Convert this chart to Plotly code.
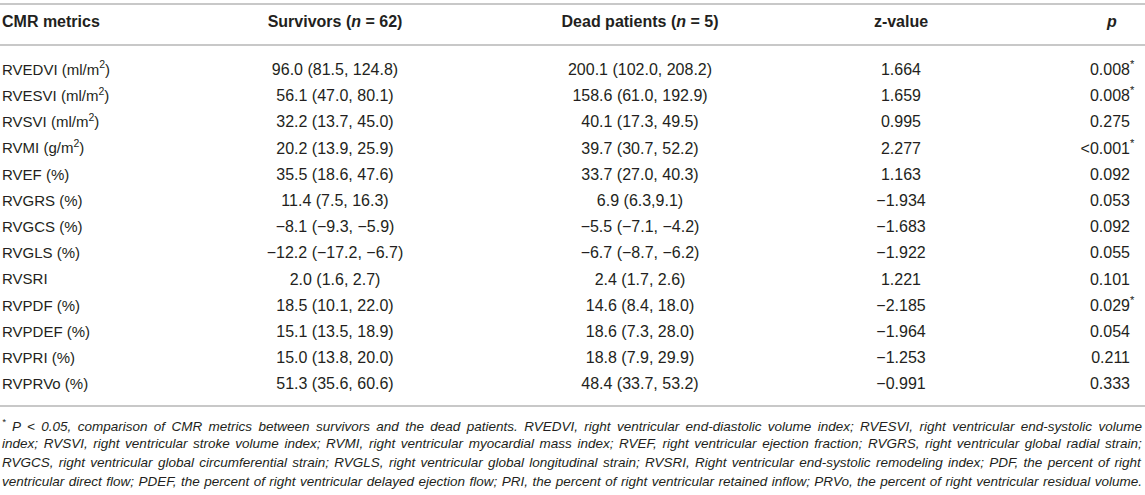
"""CMR metrics of survivors and dead patients, drawn as a table."""

import plotly.graph_objects as go

headers = [
    "<b>CMR metrics</b>",
    "<b>Survivors (<i>n</i> = 62)</b>",
    "<b>Dead patients (<i>n</i> = 5)</b>",
    "<b>z-value</b>",
    "<b><i>p</i></b>",
]
metrics = [
    "RVEDVI (ml/m<sup>2</sup>)",
    "RVESVI (ml/m<sup>2</sup>)",
    "RVSVI (ml/m<sup>2</sup>)",
    "RVMI (g/m<sup>2</sup>)",
    "RVEF (%)",
    "RVGRS (%)",
    "RVGCS (%)",
    "RVGLS (%)",
    "RVSRI",
    "RVPDF (%)",
    "RVPDEF (%)",
    "RVPRI (%)",
    "RVPRVo (%)",
]
survivors = [
    "96.0 (81.5, 124.8)",
    "56.1 (47.0, 80.1)",
    "32.2 (13.7, 45.0)",
    "20.2 (13.9, 25.9)",
    "35.5 (18.6, 47.6)",
    "11.4 (7.5, 16.3)",
    "\u22128.1 (\u22129.3, \u22125.9)",
    "\u221212.2 (\u221217.2, \u22126.7)",
    "2.0 (1.6, 2.7)",
    "18.5 (10.1, 22.0)",
    "15.1 (13.5, 18.9)",
    "15.0 (13.8, 20.0)",
    "51.3 (35.6, 60.6)",
]
dead = [
    "200.1 (102.0, 208.2)",
    "158.6 (61.0, 192.9)",
    "40.1 (17.3, 49.5)",
    "39.7 (30.7, 52.2)",
    "33.7 (27.0, 40.3)",
    "6.9 (6.3,9.1)",
    "\u22125.5 (\u22127.1, \u22124.2)",
    "\u22126.7 (\u22128.7, \u22126.2)",
    "2.4 (1.7, 2.6)",
    "14.6 (8.4, 18.0)",
    "18.6 (7.3, 28.0)",
    "18.8 (7.9, 29.9)",
    "48.4 (33.7, 53.2)",
]
z_values = [1.664, 1.659, 0.995, 2.277, 1.163, -1.934, -1.683, -1.922,
            1.221, -2.185, -1.964, -1.253, -0.991]
p_values = ["0.008", "0.008", "0.275", "<0.001", "0.092", "0.053", "0.092",
            "0.055", "0.101", "0.029", "0.054", "0.211", "0.333"]
significant = [True, True, False, True, False, False, False, False,
               False, True, False, False, False]
footnote = [
    "<sup>*</sup> P < 0.05, comparison of CMR metrics between survivors and the dead patients. "
    "RVEDVI, right ventricular end-diastolic volume index; RVESVI, right ventricular end-systolic volume",
    "index; RVSVI, right ventricular stroke volume index; RVMI, right ventricular myocardial mass index; "
    "RVEF, right ventricular ejection fraction; RVGRS, right ventricular global radial strain;",
    "RVGCS, right ventricular global circumferential strain; RVGLS, right ventricular global longitudinal strain; "
    "RVSRI, Right ventricular end-systolic remodeling index; PDF, the percent of right",
    "ventricular direct flow; PDEF, the percent of right ventricular delayed ejection flow; PRI, the percent "
    "of right ventricular retained inflow; PRVo, the percent of right ventricular residual volume.",
]

# layout (pixels in a 1145x495 page, rows counted from the first data row)
W, H = 1145, 495
ROW0, ROW_H = 71, 26.2
COL_X = {"metric": 2, "surv": 335, "dead": 640, "z": 901, "p": 1130}
P_HEADER_X = 1112
TEXT = "#231f20"
RULE = "#c8c8c8"
FONT = "Liberation Sans, Arial, sans-serif"
NOTE_RIGHT = 1142  # footnote is justified to this page x


def _row(px: float) -> float:
    return (px - ROW0) / ROW_H


def _fmt(v: float) -> str:
    return f"{v:.3f}".replace("-", "\u2212")


rows = list(range(len(metrics)))
header_y = _row(23)

fig = go.Figure()


def _column(x, labels, ys, position, size=16):
    fig.add_trace(go.Scatter(
        x=[x] * len(labels), y=ys, text=labels, mode="text",
        textposition=position,
        textfont={"family": FONT, "size": size, "color": TEXT},
        hoverinfo="skip", showlegend=False,
    ))


header_x = [COL_X["metric"], COL_X["surv"], COL_X["dead"], COL_X["z"], P_HEADER_X]
header_pos = ["middle right"] + ["middle center"] * 4
for x, label, pos in zip(header_x, headers, header_pos):
    _column(x, [label], [header_y], pos)

_column(COL_X["metric"], metrics, rows, "middle right", size=15)
_column(COL_X["surv"], survivors, rows, "middle center")
_column(COL_X["dead"], dead, rows, "middle center")
_column(COL_X["z"], [_fmt(v) for v in z_values], rows, "middle center")
_column(COL_X["p"], p_values, rows, "middle left")
star_rows = [r for r, s in zip(rows, significant) if s]
_column(COL_X["p"], ["<sup>*</sup>"] * len(star_rows), star_rows, "middle right")

for px in (4, 45, 406):
    fig.add_shape(type="line", xref="paper", x0=0, x1=1, y0=_row(px), y1=_row(px),
                  line={"color": RULE, "width": 2})

for i, line in enumerate(footnote):
    fig.add_annotation(
        text=line, xref="paper", x=0, xanchor="left", y=_row(425 + 18.7 * i),
        yanchor="middle", showarrow=False,
        font={"family": FONT, "size": 13.5, "color": TEXT, "style": "italic"},
    )

fig.update_layout(
    width=W, height=H, margin={"l": 0, "r": 0, "t": 0, "b": 0},
    paper_bgcolor="white", plot_bgcolor="white",
    xaxis={"range": [0, W], "visible": False, "fixedrange": True},
    yaxis={"range": [_row(H), _row(0)], "visible": False, "fixedrange": True},
)

# no page margin, and stretch the word gaps so the footnote reads justified
JUSTIFY = """
document.body.style.margin = '0';
document.body.style.overflow = 'hidden';
document.querySelectorAll('text.annotation-text').forEach(function (t) {
  var gaps = (t.textContent.match(/[ \\u00a0]/g) || []).length;
  var box = t.getBoundingClientRect();
  var b0 = t.getBBox();
  t.style.wordSpacing = ((RIGHT - box.right) / gaps) + 'px';
  var b1 = t.getBBox();
  t.setAttribute('transform', 'translate(' + (b0.x - b1.x) + ',0)');
});
""".replace("RIGHT", str(NOTE_RIGHT))

fig.write_html("out.html", config={"displayModeBar": False}, post_script=JUSTIFY)
